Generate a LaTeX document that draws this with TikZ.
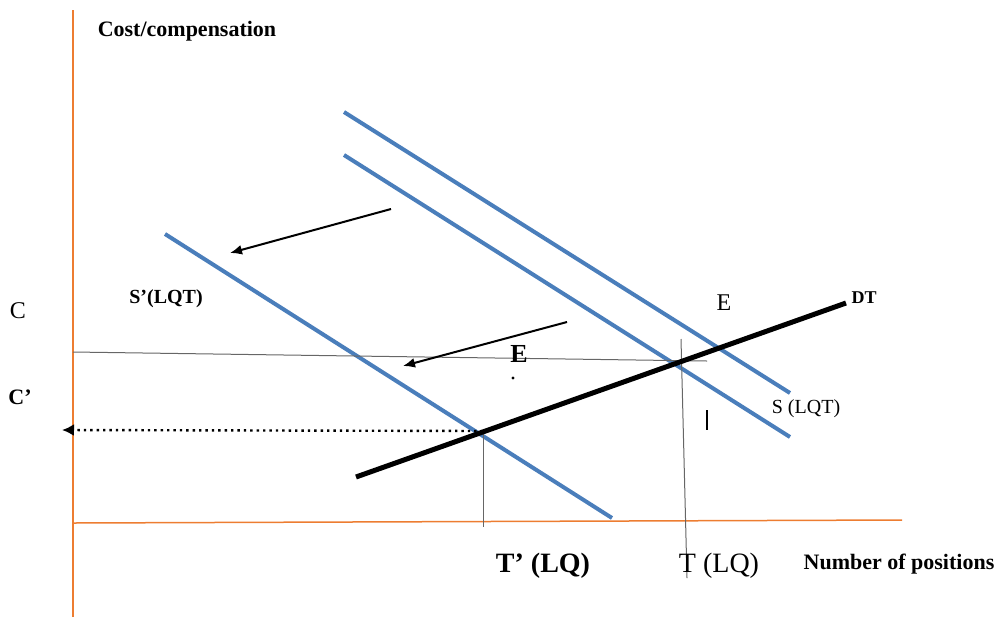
\documentclass[tikz,border=0pt]{standalone}
\usepackage{fontspec}
\setmainfont{Liberation Serif}
\usepackage{xcolor}
\usetikzlibrary{positioning}
\usetikzlibrary{arrows.meta}
\definecolor{axisorange}{RGB}{237,125,49}
\definecolor{supplyblue}{RGB}{74,126,187}
\tikzset{
  axis/.style={axisorange,line width=0.75pt},
  supply/.style={supplyblue,line width=2pt},
  demand/.style={black,line width=2.5pt},
  guide/.style={black!60,line width=0.5pt},
  shiftarrow/.style={black,line width=1pt,-{Latex[length=6pt,width=5pt]}},
  lbl/.style={inner sep=0pt,font=\fontsize{#1}{#1}\selectfont},
  blbl/.style={inner sep=0pt,font=\fontsize{#1}{#1}\selectfont\bfseries}
}

\begin{document}
\begin{tikzpicture}[x=0.5pt,y=-0.5pt]
    \useasboundingbox (0,0) rectangle (996,617);

    % axes
    \coordinate (o) at (73,523);
    \coordinate (ytop) at (73,10);
    \coordinate (ybot) at (73,617);
    \coordinate (xend) at (902,520);
    \draw[axis] (ybot)--(ytop);
    \draw[axis] (o)--(xend);

    % supply curves
    \coordinate (s1a) at (344,112); \coordinate (s1b) at (790,393);
    \coordinate (s2a) at (344,155); \coordinate (s2b) at (790,437);
    \coordinate (s3a) at (165,234); \coordinate (s3b) at (612,518);
    \draw[supply] (s1a)--(s1b);
    \draw[supply] (s2a)--(s2b);
    \draw[supply] (s3a)--(s3b);

    % guides
    \coordinate (cl) at (73,352); \coordinate (cr) at (707,361);
    \coordinate (tt) at (681,339); \coordinate (tb) at (687,578);
    \coordinate (e2) at (483,431); \coordinate (e2b) at (483,527);
    \coordinate (cp) at (62,430);
    \coordinate (tka) at (707,410); \coordinate (tkb) at (707,430);
    \draw[guide] (cl)--(cr);
    \draw[guide] (tt)--(tb);
    \draw[guide] (e2)--(e2b);
    \draw[black,line width=1.2pt,dotted,-{Latex[length=6pt,width=6pt]}] (e2)--(cp);
    \draw[black,line width=0.6pt] (tka)--(tkb);
    \fill (513,378) circle (1.6);

    % demand
    \coordinate (da) at (356,477); \coordinate (db) at (846,303);
    \draw[demand] (da)--(db);

    % shift arrows
    \coordinate (a1s) at (391,209); \coordinate (a1e) at (230,253);
    \coordinate (a2s) at (567,322); \coordinate (a2e) at (403,366);
    \draw[shiftarrow] (a1s)--(a1e);
    \draw[shiftarrow] (a2s)--(a2e);

    % labels
    \node[blbl=11pt] (ylab) at (187,31) {Cost/compensation};
    \node[blbl=11pt] (xlab) at (899,564) {Number of positions};
    \node[blbl=10pt] (sp) at (166,299) {S’(LQT)};
    \node[lbl=10pt] (s) at (806,409) {S (LQT)};
    \node[blbl=9pt] (dt) at (864,298) {DT};
    \node[lbl=12pt] (e1) at (724,303) {E};
    \node[blbl=13pt] (e2l) at (519,354) {E};
    \node[lbl=12pt] (c) at (18,311) {C};
    \node[blbl=11pt] (cpl) at (20,397) {C’};
    \node[blbl=14pt] (tp) at (543,566) {T’ (LQ)};
    \node[lbl=14pt] (t) at (719,566) {T (LQ)};
\end{tikzpicture}
\end{document}
